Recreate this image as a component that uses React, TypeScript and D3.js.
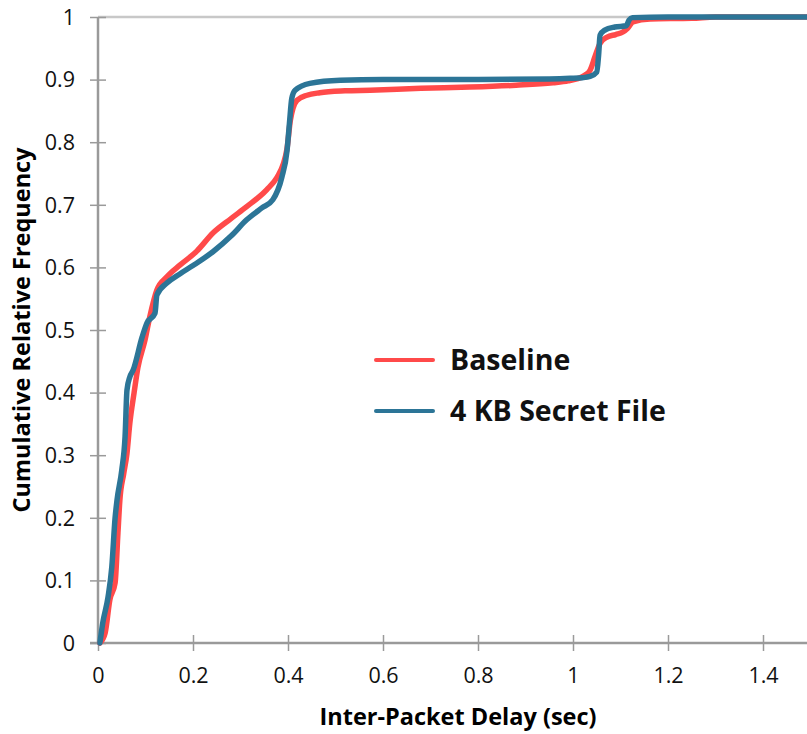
import React, { useEffect, useRef } from "react";
import * as d3 from "d3";

// CDF of inter-packet delay
const baselineDelay = [0.004, 0.015, 0.025, 0.036, 0.042, 0.046, 0.054, 0.061, 0.067, 0.076, 0.084, 0.099, 0.109, 0.124, 0.145, 0.173, 0.208, 0.242, 0.28, 0.313, 0.355, 0.377, 0.39, 0.398, 0.405, 0.419, 0.44, 0.467, 0.52, 0.573, 0.68, 0.783, 0.88, 0.958, 0.99, 1.008, 1.025, 1.036, 1.046, 1.057, 1.072, 1.09, 1.105, 1.115, 1.126, 1.162, 1.25, 1.3, 1.5];
const baselineFreq = [0, 0.016, 0.069, 0.096, 0.176, 0.228, 0.27, 0.303, 0.351, 0.4, 0.44, 0.484, 0.521, 0.564, 0.585, 0.604, 0.626, 0.655, 0.678, 0.697, 0.724, 0.744, 0.765, 0.79, 0.835, 0.867, 0.875, 0.879, 0.882, 0.883, 0.886, 0.888, 0.891, 0.895, 0.898, 0.901, 0.907, 0.915, 0.936, 0.958, 0.968, 0.972, 0.976, 0.982, 0.992, 0.997, 0.998, 1, 1];

const secretDelay = [0.004, 0.01, 0.021, 0.029, 0.036, 0.04, 0.05, 0.057, 0.061, 0.067, 0.074, 0.093, 0.103, 0.12, 0.124, 0.145, 0.173, 0.2, 0.242, 0.28, 0.313, 0.345, 0.368, 0.387, 0.398, 0.403, 0.408, 0.415, 0.446, 0.51, 0.6, 0.8, 0.95, 0.994, 1.02, 1.036, 1.05, 1.054, 1.057, 1.067, 1.088, 1.112, 1.118, 1.125, 1.2, 1.5];
const secretFreq = [0, 0.032, 0.073, 0.121, 0.2, 0.228, 0.276, 0.33, 0.404, 0.425, 0.436, 0.489, 0.511, 0.527, 0.556, 0.575, 0.59, 0.603, 0.625, 0.65, 0.676, 0.695, 0.708, 0.744, 0.787, 0.83, 0.87, 0.883, 0.894, 0.899, 0.9, 0.9, 0.901, 0.902, 0.903, 0.905, 0.912, 0.94, 0.971, 0.979, 0.984, 0.986, 0.995, 0.999, 1, 1];

const xTicks = [0, 0.2, 0.4, 0.6, 0.8, 1, 1.2, 1.4];
const yTicks = [0, 0.1, 0.2, 0.3, 0.4, 0.5, 0.6, 0.7, 0.8, 0.9, 1];

const seriesNames = ["Baseline", "4 KB Secret File"];
const seriesColors = ["#ff4a4a", "#2c7597"];

export default function App() {
  const ref = useRef<SVGSVGElement>(null);

  useEffect(() => {
    const svg = d3.select(ref.current);
    svg.selectAll("*").remove();

    const margin = { left: 98, top: 17, bottom: 91 };
    const x = d3.scaleLinear().domain([0, 1.5]).range([margin.left, margin.left + 1.5 * 475]);
    const y = d3.scaleLinear().domain([0, 1]).range([734 - margin.bottom, margin.top]);
    const fmt = d3.format("~g");
    const axisColor = "#9a9a9a";

    // top border / gridline
    svg.append("line")
      .attr("x1", x(0)).attr("x2", 807)
      .attr("y1", y(1)).attr("y2", y(1))
      .attr("stroke", "#c8c8c8").attr("stroke-width", 2.5);

    const gx = svg.append("g")
      .attr("transform", "translate(0," + y(0) + ")")
      .call(d3.axisBottom(x).tickValues(xTicks).tickSize(8).tickFormat((d: any) => fmt(d)));
    gx.select(".domain").remove();
    gx.append("line").attr("x1", x(0) - 8).attr("x2", 807).attr("stroke", axisColor).attr("stroke-width", 2.5);
    gx.selectAll(".tick line").attr("y1", -8).attr("y2", 8).attr("stroke", axisColor).attr("stroke-width", 1.5);
    gx.selectAll(".tick text")
      .attr("y", 25).attr("dy", "0.71em")
      .attr("font-family", "Open Sans").attr("font-size", 21.5).attr("fill", "#111");

    const gy = svg.append("g")
      .attr("transform", "translate(" + x(0) + ",0)")
      .call(d3.axisLeft(y).tickValues(yTicks).tickSize(8).tickFormat((d: any) => fmt(d)));
    gy.select(".domain").remove();
    gy.append("line").attr("y1", y(0)).attr("y2", y(1)).attr("stroke", axisColor).attr("stroke-width", 2.5);
    gy.selectAll(".tick line").attr("x1", -8).attr("x2", 8).attr("stroke", axisColor).attr("stroke-width", 1.5);
    gy.selectAll(".tick text")
      .attr("x", -23).attr("dy", "0.34em")
      .attr("font-family", "Open Sans").attr("font-size", 21.5).attr("fill", "#111");

    svg.append("text")
      .attr("x", 458).attr("y", 725)
      .attr("text-anchor", "middle")
      .attr("font-family", "Open Sans").attr("font-weight", "bold").attr("font-size", 23.5)
      .text("Inter-Packet Delay (sec)");

    svg.append("text")
      .attr("transform", "translate(30,330) rotate(-90)")
      .attr("text-anchor", "middle")
      .attr("font-family", "Open Sans").attr("font-weight", "bold").attr("font-size", 23.5)
      .text("Cumulative Relative Frequency");

    const line = d3.line<[number, number]>()
      .x(d => x(d[0]))
      .y(d => y(d[1]))
      .curve(d3.curveMonotoneX);

    const series: [number, number][][] = [
      baselineDelay.map((d, i) => [d, baselineFreq[i]]),
      secretDelay.map((d, i) => [d, secretFreq[i]]),
    ];

    series.forEach((s, i) => {
      svg.append("path")
        .attr("d", line(s))
        .attr("fill", "none")
        .attr("stroke", seriesColors[i])
        .attr("stroke-width", 5.5)
        .attr("stroke-linejoin", "round")
        .attr("stroke-linecap", "round");
    });

    // legend
    const lg = svg.append("g").attr("transform", "translate(376,360)");
    seriesNames.forEach((name, i) => {
      const row = lg.append("g").attr("transform", "translate(0," + i * 51 + ")");
      row.append("line")
        .attr("x1", 0).attr("x2", 57)
        .attr("stroke", seriesColors[i]).attr("stroke-width", 4).attr("stroke-linecap", "round");
      row.append("text")
        .attr("x", 74).attr("dy", "0.36em")
        .attr("font-family", "Open Sans").attr("font-weight", "bold").attr("font-size", 28.5)
        .attr("fill", "#111")
        .text(name);
    });
  }, []);

  return (
    <svg ref={ref} width={807} height={734}
      style={{ position: "absolute", left: 0, top: 0, background: "#fff" }} />
  );
}
